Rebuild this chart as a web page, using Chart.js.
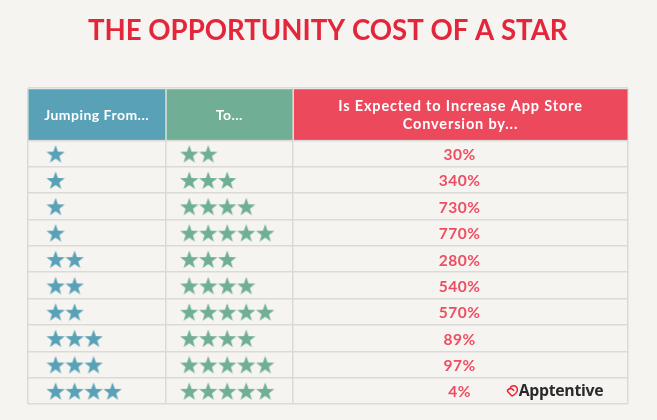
<!DOCTYPE html>
<html>
<head>
<meta charset="utf-8">
<title>The opportunity cost of a star</title>
<script src="https://cdn.jsdelivr.net/npm/chart.js@4"></script>
<style>
  html, body { margin: 0; padding: 0; background: #f5f4f0; }
  canvas { display: block; }
</style>
</head>
<body>
<canvas id="chart" width="657" height="420"></canvas>
<script>
const titleText = "THE OPPORTUNITY COST OF A STAR";
const fromStars = [1, 1, 1, 1, 2, 2, 2, 3, 3, 4];
const toStars = [2, 3, 4, 5, 3, 4, 5, 4, 5, 5];
const increase = [30, 340, 730, 770, 280, 540, 570, 89, 97, 4];
const headerFrom = ["Jumping From..."];
const headerTo = ["To..."];
const headerIncrease = ["Is Expected to Increase App Store", "Conversion by..."];

const BLUE = "#59a1b6";
const GREEN = "#70af95";
const RED = "#ec4a5c";
const LINE = "#dbdad6";

// x scale is in star widths, y scale in table rows
const X_MAX = 31.63;
const COL_TO = 7.28;
const COL_INCREASE = 13.98;
const FROM_START = 1.48;
const TO_START = 8.52;
const INCREASE_CENTER = 22.76;
const Y_TOP = -2.48;

function starSprite(color) {
  const c = document.createElement("canvas");
  c.width = c.height = 24;
  const g = c.getContext("2d");
  g.fillStyle = color;
  g.beginPath();
  for (let i = 0; i < 10; i++) {
    const r = i % 2 ? 3.9 : 9.6;
    const a = -Math.PI / 2 + (i * Math.PI) / 5;
    g.lineTo(12 + r * Math.cos(a), 13.2 + r * Math.sin(a));
  }
  g.closePath();
  g.fill();
  return c;
}

function starPoints(counts, start) {
  const pts = [];
  counts.forEach((n, row) => {
    for (let s = 0; s < n; s++) pts.push({ x: start + s, y: row });
  });
  return pts;
}

function text(ctx, str, x, y, font, color, spacing) {
  ctx.font = font;
  ctx.fillStyle = color;
  ctx.letterSpacing = spacing || "0px";
  ctx.textAlign = "center";
  ctx.textBaseline = "middle";
  ctx.fillText(str, x, y);
}

const tablePlugin = {
  id: "table",
  beforeDatasetsDraw(chart) {
    const { ctx, scales: { x, y } } = chart;
    const top = y.getPixelForValue(Y_TOP);
    const bottom = y.getPixelForValue(-0.5);
    const cols = [
      [0, COL_TO, BLUE],
      [COL_TO, COL_INCREASE, GREEN],
      [COL_INCREASE, X_MAX, RED],
    ];
    ctx.save();
    cols.forEach(([a, b, color]) => {
      ctx.fillStyle = color;
      const l = x.getPixelForValue(a) + 1;
      ctx.fillRect(l, top + 1, x.getPixelForValue(b) - l - 0.5, bottom - top - 1.5);
    });
    ctx.restore();
  },
  afterDatasetsDraw(chart) {
    const { ctx, scales: { x, y } } = chart;
    const white = "#ffffff";
    const headY = y.getPixelForValue(-1.49) + 1.5;
    ctx.save();
    text(ctx, headerFrom[0], x.getPixelForValue(COL_TO / 2), headY, "700 14px Lato", white, "0.47px");
    text(ctx, headerTo[0], x.getPixelForValue((COL_TO + COL_INCREASE) / 2), headY, "700 14px Lato", white, "0.47px");
    const midX = x.getPixelForValue((COL_INCREASE + X_MAX) / 2);
    text(ctx, headerIncrease[0], midX, headY - 9, "700 14.5px Lato", white, "0.85px");
    text(ctx, headerIncrease[1], midX, headY + 9, "700 14.5px Lato", white, "0.85px");

    increase.forEach((v, row) => {
      text(ctx, v + "%", x.getPixelForValue(INCREASE_CENTER), y.getPixelForValue(row) + 1.5, "700 15.5px Lato", "#ee4d61", "0.5px");
    });

    // Apptentive logo in the last row
    ctx.strokeStyle = "#e4263c";
    ctx.lineWidth = 1.5;
    ctx.lineJoin = "round";
    ctx.beginPath();
    ctx.moveTo(512, 396);
    ctx.lineTo(507.6, 391.5);
    ctx.quadraticCurveTo(507, 389.5, 510, 388.5);
    ctx.quadraticCurveTo(511, 385.6, 514, 385.8);
    ctx.quadraticCurveTo(517.4, 386.5, 517.4, 390);
    ctx.quadraticCurveTo(517, 393.5, 512, 396);
    ctx.moveTo(510, 388.5);
    ctx.quadraticCurveTo(513, 388.5, 514, 391);
    ctx.stroke();
    text(ctx, "Apptentive", 561, 391.5, "700 15.8px 'Open Sans'", "#2a2a2a", "-0.3px");
    ctx.restore();
  },
};

new Chart(document.getElementById("chart"), {
  type: "scatter",
  data: {
    datasets: [
      { label: "Jumping From", data: starPoints(fromStars, FROM_START), pointStyle: starSprite(BLUE), pointRadius: 9 },
      { label: "To", data: starPoints(toStars, TO_START), pointStyle: starSprite(GREEN), pointRadius: 9 },
    ],
  },
  options: {
    responsive: false,
    animation: false,
    layout: { padding: { left: 27.5, right: 29, bottom: 16 } },
    plugins: {
      legend: { display: false },
      tooltip: { enabled: false },
      title: {
        display: true,
        text: titleText,
        color: "#e4263c",
        font: { family: "Lato", weight: "700", size: 27.6 },
        padding: { top: 15, bottom: 40.1 },
      },
    },
    scales: {
      x: {
        type: "linear",
        min: 0,
        max: X_MAX,
        afterBuildTicks: (s) => { s.ticks = [0, COL_TO, COL_INCREASE, X_MAX].map((value) => ({ value })); },
        ticks: { display: false },
        border: { display: false },
        grid: { color: LINE, lineWidth: 1.5, drawTicks: false },
      },
      y: {
        type: "linear",
        reverse: true,
        min: Y_TOP,
        max: 9.5,
        afterBuildTicks: (s) => {
          s.ticks = [Y_TOP, -0.5, 0.5, 1.5, 2.5, 3.5, 4.5, 5.5, 6.5, 7.5, 8.5, 9.5].map((value) => ({ value }));
        },
        ticks: { display: false },
        border: { display: false },
        grid: { color: LINE, lineWidth: 1.5, drawTicks: false },
      },
    },
  },
  plugins: [tablePlugin],
});
</script>
</body>
</html>
